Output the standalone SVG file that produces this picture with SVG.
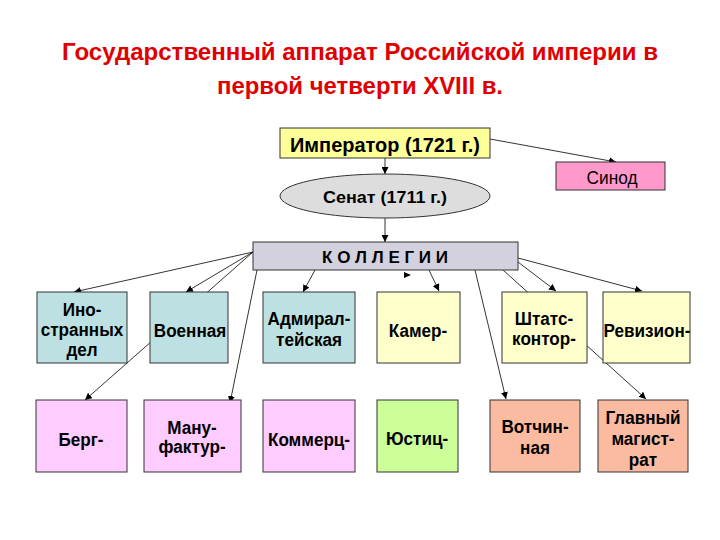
<svg xmlns="http://www.w3.org/2000/svg" width="720" height="540" viewBox="0 0 720 540">
<defs>
<marker id="arr" viewBox="0 0 10 10" refX="10" refY="5" markerWidth="7" markerHeight="7" markerUnits="userSpaceOnUse" orient="auto">
<path d="M0,0 L10,5 L0,10 z" fill="#000"/>
</marker>
<style>
.t{font-family:"Liberation Sans",Arial,sans-serif;font-weight:bold;font-size:19px;fill:#000;text-anchor:middle}
.box{stroke:#333;stroke-width:1}
.blue{fill:#bde0e2}
.yel{fill:#ffffcc}
.pink{fill:#ffccff}
.green{fill:#ccff99}
.sal{fill:#fbbba0}
.ca{stroke:#000;stroke-width:0.8;fill:none;marker-end:url(#arr)}
</style>
</defs>
<rect width="720" height="540" fill="#fff"/>
<g id="title" font-family="'Liberation Sans',Arial,sans-serif" font-weight="bold" font-size="24" fill="#e00000" text-anchor="middle">
<text x="360" y="60" textLength="596" lengthAdjust="spacingAndGlyphs">Государственный  аппарат Российской империи в</text>
<text x="360" y="94" textLength="286" lengthAdjust="spacingAndGlyphs">первой четверти XVIII в.</text>
</g>
<g id="connectors">
<line class="ca" x1="385" y1="158" x2="385" y2="174"/>
<line class="ca" x1="490" y1="139" x2="616" y2="162"/>
<line class="ca" x1="385" y1="218" x2="385" y2="242"/>
<line class="ca" x1="253" y1="252" x2="74" y2="292"/>
<line class="ca" x1="253" y1="252" x2="186" y2="292"/>
<line class="ca" x1="253" y1="252" x2="85" y2="400"/>
<line class="ca" x1="257" y1="270" x2="230" y2="403"/>
<line class="ca" x1="315" y1="270" x2="303" y2="292"/>
<line class="ca" x1="429" y1="270" x2="439" y2="291"/>
<line class="ca" x1="475" y1="270" x2="506" y2="399"/>
<line class="ca" x1="503" y1="270" x2="646" y2="399"/>
<line class="ca" x1="518" y1="262" x2="556" y2="291"/>
<line class="ca" x1="518" y1="258" x2="642" y2="291"/>
<path d="M404,272 L411,275 L404,278 z" fill="#000"/>
</g>
<g id="imperator">
<rect class="box" x="280" y="128" width="210" height="30" fill="#ffff99"/>
<text class="t" x="385" y="152" style="font-size:20px" textLength="190" lengthAdjust="spacingAndGlyphs">Император (1721 г.)</text>
</g>
<g id="sinod">
<rect class="box" x="556" y="162" width="109" height="28" fill="#ff99cc"/>
<text class="t" x="612" y="184" style="font-weight:normal;font-size:18px" textLength="51" lengthAdjust="spacingAndGlyphs">Синод</text>
</g>
<g id="senat">
<ellipse class="box" cx="385" cy="196" rx="105" ry="22" fill="#dddddd"/>
<text class="t" x="385" y="203" style="font-size:17px" textLength="124" lengthAdjust="spacingAndGlyphs">Сенат (1711 г.)</text>
</g>
<g id="kollegii">
<rect class="box" x="253" y="242" width="265" height="28" fill="#d4d1df"/>
<text class="t" x="385" y="263" style="font-size:17px">К О Л Л Е Г И И</text>
</g>
<g id="ino">
<rect class="box blue" x="37" y="292" width="90" height="71"/>
<text class="t" transform="translate(82,316) scale(0.9,1)">Ино-</text>
<text class="t" transform="translate(82,336) scale(0.9,1)">странных</text>
<text class="t" transform="translate(82,356) scale(0.9,1)">дел</text>
</g>
<g id="voennaya">
<rect class="box blue" x="150" y="292" width="78" height="71"/>
<text class="t" transform="translate(190,337) scale(0.9,1)">Военная</text>
</g>
<g id="admiral">
<rect class="box blue" x="263" y="292" width="92" height="71"/>
<text class="t" transform="translate(309,325) scale(0.9,1)">Адмирал-</text>
<text class="t" transform="translate(309,346) scale(0.9,1)">тейская</text>
</g>
<g id="kamer">
<rect class="box yel" x="377" y="292" width="83" height="71"/>
<text class="t" transform="translate(418,337) scale(0.9,1)">Камер-</text>
</g>
<g id="shtats">
<rect class="box yel" x="502" y="292" width="85" height="71"/>
<text class="t" transform="translate(544,325) scale(0.9,1)">Штатс-</text>
<text class="t" transform="translate(544,345) scale(0.9,1)">контор-</text>
</g>
<g id="reviz">
<rect class="box yel" x="603" y="292" width="87" height="71"/>
<text class="t" transform="translate(647,337) scale(0.9,1)">Ревизион-</text>
</g>
<g id="berg">
<rect class="box pink" x="36" y="400" width="91" height="72"/>
<text class="t" transform="translate(81,446) scale(0.9,1)">Берг-</text>
</g>
<g id="manuf">
<rect class="box pink" x="144" y="400" width="97" height="72"/>
<text class="t" transform="translate(192,434) scale(0.9,1)">Ману-</text>
<text class="t" transform="translate(192,453) scale(0.9,1)">фактур-</text>
</g>
<g id="kommerc">
<rect class="box pink" x="263" y="400" width="92" height="72"/>
<text class="t" transform="translate(309,446) scale(0.9,1)">Коммерц-</text>
</g>
<g id="justic">
<rect class="box green" x="377" y="400" width="81" height="72"/>
<text class="t" transform="translate(417,445) scale(0.9,1)">Юстиц-</text>
</g>
<g id="votchin">
<rect class="box sal" x="490" y="400" width="90" height="72"/>
<text class="t" transform="translate(535,433) scale(0.9,1)">Вотчин-</text>
<text class="t" transform="translate(535,454) scale(0.9,1)">ная</text>
</g>
<g id="magistrat">
<rect class="box sal" x="598" y="400" width="90" height="72"/>
<text class="t" transform="translate(643,424) scale(0.9,1)">Главный</text>
<text class="t" transform="translate(643,445) scale(0.9,1)">магист-</text>
<text class="t" transform="translate(643,466) scale(0.9,1)">рат</text>
</g>
</svg>
